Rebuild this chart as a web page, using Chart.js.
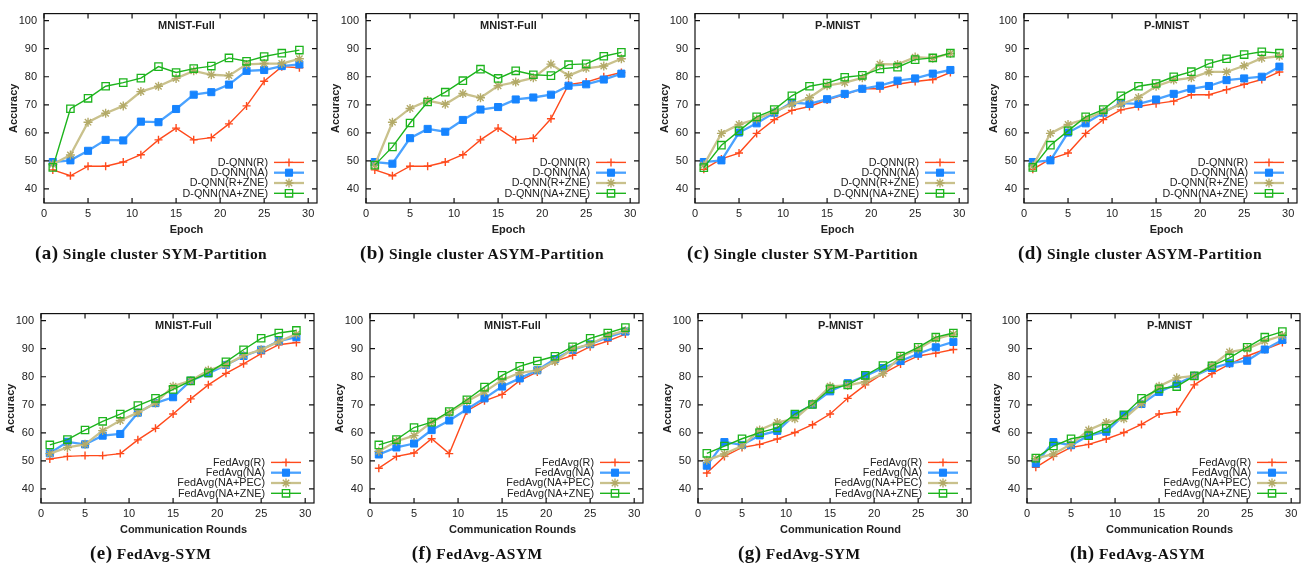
<!DOCTYPE html>
<html>
<head>
<meta charset="utf-8">
<script src="https://cdn.jsdelivr.net/npm/chart.js@4/dist/chart.umd.min.js"></script>
<style>
  html, body { margin:0; padding:0; background:#fff; }
  #root { position:relative; width:1307px; height:565px; overflow:hidden; background:#fff; }
  canvas { position:absolute; }
  .cap { position:absolute; white-space:nowrap; font-family:'Liberation Serif','Times New Roman',serif; font-weight:bold; font-size:15.5px; color:#111; letter-spacing:0.45px; transform:translateY(-50%); line-height:1; }
  .cap .lbl { font-size:19px; }
</style>
</head>
<body>
<div id="root"></div>
<script>
// ---------- data ----------
const epochs = [1,3,5,7,9,11,13,15,17,19,21,23,25,27,29];
const xTicks = [0,5,10,15,20,25,30];
const yTicks = [40,50,60,70,80,90,100];
const qnnLabels = ['D-QNN(R)','D-QNN(NA)','D-QNN(R+ZNE)','D-QNN(NA+ZNE)'];
const fedLabels = ['FedAvg(R)','FedAvg(NA)','FedAvg(NA+PEC)','FedAvg(NA+ZNE)'];

// (a) Single cluster SYM-Partition, MNIST-Full
const a_R   = [46.8,44.7,48.1,48.1,49.6,52.2,57.5,61.7,57.5,58.3,63.2,69.6,78.4,83.6,83.2];
const a_NA  = [49.6,50.2,53.6,57.5,57.3,64.0,63.8,68.5,73.6,74.5,77.2,82.1,82.4,83.8,84.4];
const a_RZ  = [48.8,52.1,63.8,67.0,69.6,74.7,76.6,79.4,82.1,80.7,80.4,84.4,84.7,84.7,86.4];
const a_NAZ = [47.7,68.6,72.3,76.6,77.9,79.5,83.6,81.5,82.9,83.8,86.7,85.5,87.2,88.4,89.5];
// (b) Single cluster ASYM-Partition, MNIST-Full
const b_R   = [46.8,44.7,48.1,48.1,49.6,52.2,57.5,61.7,57.5,58.1,65.0,77.2,78.1,80.0,81.5];
const b_NA  = [49.6,49.0,58.1,61.4,60.4,64.6,68.3,69.2,71.9,72.6,73.6,76.8,77.3,79.0,81.1];
const b_RZ  = [48.5,63.8,68.7,71.5,70.2,74.0,72.5,76.8,78.1,79.6,84.5,80.4,83.0,83.8,86.4];
const b_NAZ = [48.5,55.0,63.5,71.0,74.5,78.6,82.7,79.4,82.1,80.7,80.4,84.3,84.6,87.3,88.7];
// (c) Single cluster SYM-Partition, P-MNIST
const c_R   = [47.0,50.7,52.8,59.8,64.7,68.0,69.4,71.7,73.6,75.7,75.7,77.3,78.3,79.0,81.5];
const c_NA  = [49.6,50.2,60.1,63.4,67.2,70.8,70.3,72.0,73.9,75.7,76.8,78.6,79.4,81.1,82.4];
const c_RZ  = [48.5,59.8,63.0,64.9,67.5,70.2,72.5,76.8,77.9,79.6,84.5,84.4,87.0,86.6,88.3];
const c_NAZ = [47.6,55.6,60.7,65.7,68.3,73.2,76.6,77.7,79.8,80.5,82.8,83.4,86.1,86.7,88.4];
// (d) Single cluster ASYM-Partition, P-MNIST
const d_R   = [47.0,50.7,52.8,59.8,64.7,68.2,69.4,70.4,71.3,73.6,73.6,75.4,77.3,79.0,81.7];
const d_NA  = [49.6,50.2,60.1,63.4,67.2,70.6,70.3,71.9,73.9,75.7,76.7,78.8,79.4,80.0,83.6];
const d_RZ  = [48.2,59.8,63.0,64.9,67.5,70.2,72.6,76.6,78.8,79.6,81.7,81.7,83.9,86.6,87.3];
const d_NAZ = [47.7,55.6,60.7,65.7,68.3,73.2,76.6,77.6,80.0,81.8,84.7,86.4,87.9,88.9,88.4];
// (e) FedAvg-SYM, MNIST-Full
const e_R   = [50.7,51.6,51.9,51.9,52.6,57.5,61.6,66.7,72.1,77.1,81.2,84.6,88.2,91.4,92.2];
const e_NA  = [52.7,56.8,55.9,59.0,59.6,67.2,70.6,72.7,78.6,81.2,84.2,87.4,89.6,92.7,94.1];
const e_PEC = [52.6,54.8,55.9,60.8,64.4,67.2,70.6,76.6,78.6,82.3,84.2,87.6,89.6,92.5,95.2];
const e_ZNE = [55.7,57.6,61.0,64.1,66.7,69.7,72.3,75.5,78.5,81.4,85.3,89.6,93.7,95.6,96.5];
// (f) FedAvg-ASYM, MNIST-Full
const f_R   = [47.4,51.6,52.8,57.9,52.6,67.8,71.4,73.7,78.6,81.7,85.5,87.6,90.7,92.7,95.2];
const f_NA  = [52.3,54.8,56.2,61.0,64.4,68.4,72.3,76.5,79.4,82.3,86.3,89.6,91.6,94.1,96.1];
const f_PEC = [53.4,57.0,59.0,63.8,67.2,71.2,74.6,78.8,81.4,82.3,85.4,89.9,91.6,94.7,96.4];
const f_ZNE = [55.7,57.6,61.9,63.8,67.6,71.8,76.3,80.5,83.7,85.6,87.3,90.7,93.7,95.6,97.5];
// (g) FedAvg-SYM, P-MNIST
const g_R   = [45.7,51.6,54.8,55.9,57.8,60.1,62.9,66.7,72.3,77.1,81.1,84.5,87.4,88.4,89.7];
const g_NA  = [48.3,56.7,55.7,59.1,60.7,66.4,70.1,74.8,77.7,80.3,83.1,85.6,88.2,90.5,92.4];
const g_PEC = [50.2,52.5,55.3,61.0,63.7,65.0,70.4,76.6,76.9,78.2,81.2,87.1,89.9,93.5,95.2];
const g_ZNE = [52.7,55.3,57.9,60.1,61.8,66.7,70.1,75.7,77.1,80.5,84.0,87.4,90.5,94.1,95.6];
// (h) FedAvg-ASYM, P-MNIST
const h_R   = [47.7,51.6,54.8,55.9,57.8,60.1,63.0,66.7,67.5,77.1,81.1,84.5,87.4,89.7,92.2];
const h_NA  = [49.1,56.7,55.6,59.0,60.4,66.3,70.3,74.6,77.4,80.3,83.1,84.8,85.7,89.7,93.1];
const h_PEC = [50.8,52.5,55.9,61.0,63.7,65.0,70.4,76.6,79.6,80.3,84.0,88.8,89.9,92.7,94.7];
const h_ZNE = [51.0,55.3,57.9,59.0,61.6,66.4,72.3,75.7,76.5,80.3,83.9,86.7,90.5,94.1,96.1];

// ---------- panel layout ----------
const panels = [
  {left:43.7,  top:5,   title:'MNIST-Full', xlabel:'Epoch', labels:qnnLabels, series:[a_R,a_NA,a_RZ,a_NAZ], tag:'(a)', cap:'Single cluster SYM-Partition',  capX:35,   capY:252},
  {left:365.7, top:5,   title:'MNIST-Full', xlabel:'Epoch', labels:qnnLabels, series:[b_R,b_NA,b_RZ,b_NAZ], tag:'(b)', cap:'Single cluster ASYM-Partition', capX:360,  capY:252},
  {left:695,   top:5,   title:'P-MNIST',    xlabel:'Epoch', labels:qnnLabels, series:[c_R,c_NA,c_RZ,c_NAZ], tag:'(c)', cap:'Single cluster SYM-Partition',  capX:687,  capY:252},
  {left:1024.3,top:5,   title:'P-MNIST',    xlabel:'Epoch', labels:qnnLabels, series:[d_R,d_NA,d_RZ,d_NAZ], tag:'(d)', cap:'Single cluster ASYM-Partition', capX:1018, capY:252},
  {left:40.7,  top:305, title:'MNIST-Full', xlabel:'Communication Rounds', labels:fedLabels, series:[e_R,e_NA,e_PEC,e_ZNE], tag:'(e)', cap:'FedAvg-SYM',  capX:90,   capY:552},
  {left:369.5, top:305, title:'MNIST-Full', xlabel:'Communication Rounds', labels:fedLabels, series:[f_R,f_NA,f_PEC,f_ZNE], tag:'(f)', cap:'FedAvg-ASYM', capX:411.7,capY:552},
  {left:697.7, top:305, title:'P-MNIST',    xlabel:'Communication Round',  labels:fedLabels, series:[g_R,g_NA,g_PEC,g_ZNE], tag:'(g)', cap:'FedAvg-SYM',  capX:738,  capY:552},
  {left:1026.7,top:305, title:'P-MNIST',    xlabel:'Communication Rounds', labels:fedLabels, series:[h_R,h_NA,h_PEC,h_ZNE], tag:'(h)', cap:'FedAvg-ASYM', capX:1070, capY:552}
];
const AREA_W = 273, AREA_H = 198;
const YAX_W = 44, XAX_H = 40, PAD_T = 5, PAD_R = 12;

const styles = [
  {line:'#ff4a1c', mark:'#ff4a1c', lw:1.4, ps:'cross', r:4,   fill:'#ff4a1c', bw:1.4},
  {line:'#4aa2ff', mark:'#1684ff', lw:2.3, ps:'rect',  r:5,   fill:'#1684ff', bw:1},
  {line:'#c9c18c', mark:'#b3aa68', lw:2.3, ps:'star',  r:4.5, fill:'#b3aa68', bw:1.4},
  {line:'#1db41d', mark:'#1db41d', lw:1.4, ps:'rect',  r:5.2, fill:'rgba(255,255,255,0)', bw:1.3}
];

const FONT = "'Liberation Sans', Arial, Helvetica, sans-serif";
Chart.defaults.font.family = FONT;
Chart.defaults.font.size = 11;
Chart.defaults.color = '#222';

function drawMarker(ctx, st, x, y) {
  ctx.save();
  ctx.strokeStyle = st.mark; ctx.fillStyle = st.fill; ctx.lineWidth = st.bw;
  const r = st.r;
  ctx.beginPath();
  if (st.ps === 'cross') {
    ctx.moveTo(x - r, y); ctx.lineTo(x + r, y); ctx.moveTo(x, y - r); ctx.lineTo(x, y + r); ctx.stroke();
  } else if (st.ps === 'star') {
    const d = r * Math.SQRT1_2;
    ctx.moveTo(x - r, y); ctx.lineTo(x + r, y); ctx.moveTo(x, y - r); ctx.lineTo(x, y + r);
    ctx.moveTo(x - d, y - d); ctx.lineTo(x + d, y + d); ctx.moveTo(x - d, y + d); ctx.lineTo(x + d, y - d);
    ctx.stroke();
  } else {
    const s = r * Math.SQRT1_2;
    ctx.rect(x - s, y - s, 2 * s, 2 * s); ctx.fill(); ctx.stroke();
  }
  ctx.restore();
}

const gnuPlugin = {
  id: 'gnu',
  afterDraw(chart, args, opts) {
    const {ctx, chartArea: {left, top, right, bottom}} = chart;
    const xs = chart.scales.x, ys = chart.scales.y;
    ctx.save();
    // frame
    ctx.strokeStyle = '#111'; ctx.lineWidth = 1.2;
    ctx.strokeRect(left, top, right - left, bottom - top);
    // inward ticks (mirrored)
    ctx.beginPath();
    ys.ticks.forEach(t => {
      const y = ys.getPixelForValue(t.value);
      ctx.moveTo(left, y); ctx.lineTo(left + 5, y);
      ctx.moveTo(right, y); ctx.lineTo(right - 5, y);
    });
    xs.ticks.forEach(t => {
      const x = xs.getPixelForValue(t.value);
      ctx.moveTo(x, bottom); ctx.lineTo(x, bottom - 5);
      ctx.moveTo(x, top); ctx.lineTo(x, top + 5);
    });
    ctx.stroke();
    // title, axis labels
    const cx = (left + right) / 2 + 6;
    ctx.fillStyle = '#222';
    ctx.textAlign = 'center'; ctx.textBaseline = 'middle';
    ctx.font = 'bold 11px ' + FONT;
    ctx.fillText(opts.title, cx, top + 12);
    ctx.fillText(opts.xlabel, cx, bottom + 26.5);
    ctx.save();
    ctx.translate(left - 30, (top + bottom) / 2);
    ctx.rotate(-Math.PI / 2);
    ctx.fillText('Accuracy', 0, 0);
    ctx.restore();
    // legend
    ctx.font = '10.8px ' + FONT;
    ctx.textAlign = 'right';
    chart.data.datasets.forEach((ds, i) => {
      const st = styles[i];
      const y = bottom - 9.7 - (3 - i) * 10.3;
      ctx.fillStyle = '#222';
      ctx.fillText(ds.label, right - 49, y + 0.5);
      ctx.beginPath();
      ctx.strokeStyle = st.line; ctx.lineWidth = st.lw;
      ctx.moveTo(right - 43, y); ctx.lineTo(right - 13, y); ctx.stroke();
      drawMarker(ctx, st, right - 28, y);
    });
    ctx.restore();
  }
};

const root = document.getElementById('root');
panels.forEach(p => {
  const cv = document.createElement('canvas');
  const W = YAX_W + AREA_W + PAD_R, H = PAD_T + AREA_H + XAX_H;
  cv.width = W; cv.height = H;
  cv.style.width = W + 'px'; cv.style.height = H + 'px';
  cv.style.left = (p.left - YAX_W) + 'px';
  cv.style.top = (p.top - PAD_T) + 'px';
  root.appendChild(cv);

  const datasets = p.series.map((vals, i) => {
    const st = styles[i];
    return {
      label: p.labels[i],
      data: epochs.map((e, k) => ({x: e, y: vals[k]})),
      borderColor: st.line,
      borderWidth: st.lw,
      backgroundColor: st.fill,
      pointStyle: st.ps,
      pointRadius: st.r,
      pointHoverRadius: st.r,
      pointBorderColor: st.mark,
      pointBackgroundColor: st.fill,
      pointBorderWidth: st.bw,
      tension: 0,
      fill: false,
      order: 4 - i
    };
  });

  new Chart(cv, {
    type: 'line',
    data: { datasets },
    options: {
      responsive: false,
      animation: false,
      devicePixelRatio: 1,
      layout: { padding: { top: PAD_T, right: PAD_R, left: 0, bottom: 0 } },
      plugins: {
        legend: { display: false },
        tooltip: { enabled: false },
        gnu: { title: p.title, xlabel: p.xlabel }
      },
      scales: {
        x: {
          type: 'linear', min: 0, max: 31,
          afterBuildTicks: s => { s.ticks = xTicks.map(v => ({value: v})); },
          afterFit: s => { s.height = XAX_H; },
          grid: { display: false, drawTicks: false },
          border: { display: false },
          ticks: { padding: 4, maxRotation: 0, autoSkip: false, color: '#222', font: { size: 11 } }
        },
        y: {
          type: 'linear', min: 35, max: 102.5,
          afterBuildTicks: s => { s.ticks = yTicks.map(v => ({value: v})); },
          afterFit: s => { s.width = YAX_W; },
          grid: { display: false, drawTicks: false },
          border: { display: false },
          ticks: { padding: 7, color: '#222', font: { size: 11 } }
        }
      }
    },
    plugins: [gnuPlugin]
  });

  const cap = document.createElement('div');
  cap.className = 'cap';
  cap.style.left = p.capX + 'px';
  cap.style.top = p.capY + 'px';
  cap.innerHTML = '<span class="lbl">' + p.tag + '</span> ' + p.cap;
  root.appendChild(cap);
});
</script>
</body>
</html>
